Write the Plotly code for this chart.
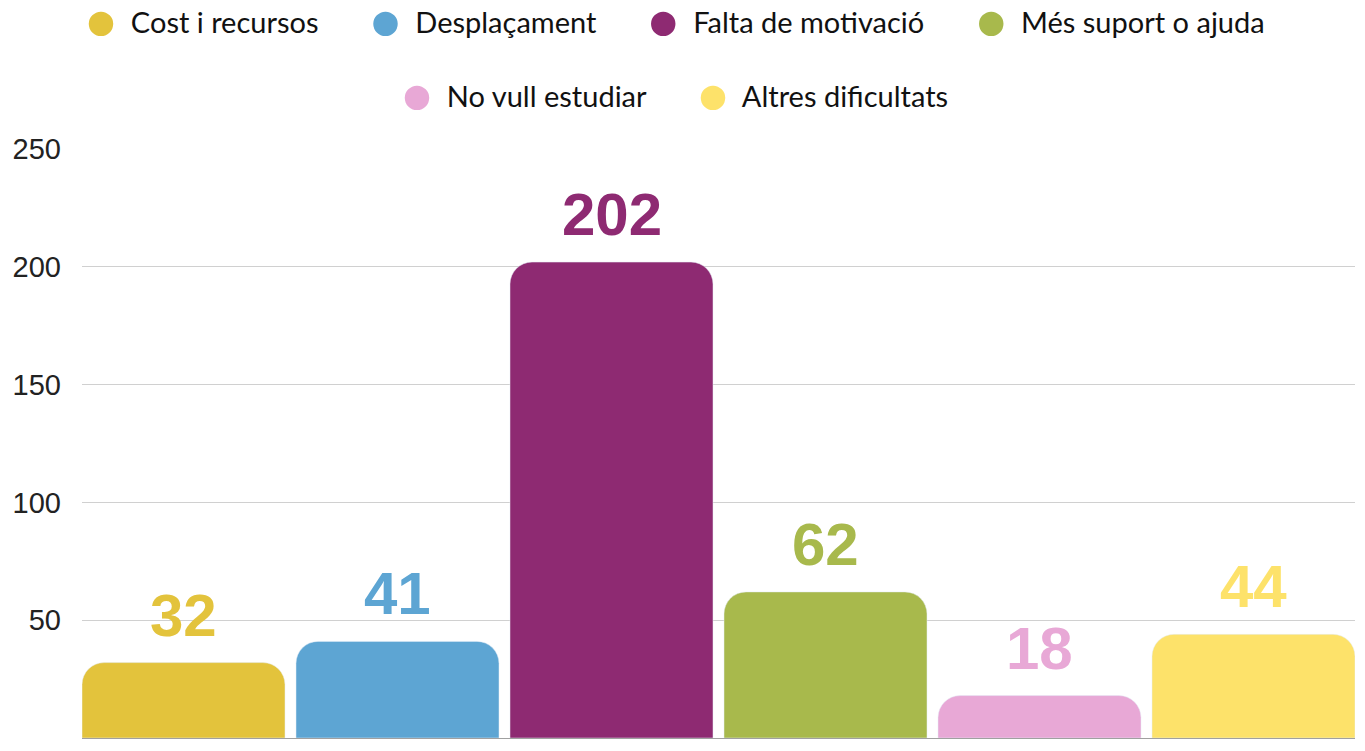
import plotly.graph_objects as go

categories = ["Cost i recursos", "Desplaçament", "Falta de motivació",
              "Més suport o ajuda", "No vull estudiar", "Altres dificultats"]
values = [32, 41, 202, 62, 18, 44]
colors = ["#E3C33C", "#5DA5D3", "#8E2A72", "#A8B94C", "#E8A8D6", "#FDE26A"]
y_ticks = [0, 50, 100, 150, 200, 250]
legend_rows = [[0, 1, 2, 3], [4, 5]]

GAP = 0.0514  # fraction of slot between bars

fig = go.Figure()

fig.add_trace(go.Bar(
    x=categories, y=values,
    marker=dict(color=colors, cornerradius=22),
    showlegend=False, hoverinfo="x+y",
))

for cat, val, col in zip(categories, values, colors):
    fig.add_annotation(
        x=cat, y=val, text=str(val), showarrow=False,
        yanchor="bottom", yshift=12,
        font=dict(family="Liberation Sans, Arial, sans-serif",
                  size=60, color=col, weight="bold"),
    )

# custom centred legend rows with large circle markers
NB = "\u00a0"
row_y = [1 + 129 / 589, 1 + 55 / 589]
for row, yy in zip(legend_rows, row_y):
    parts = []
    for idx in row:
        parts.append(
            f'<span style="color:{colors[idx]};font-size:50px;baseline-shift:-6px">●</span>'
            f'{NB * 2}{categories[idx]}'
        )
    fig.add_annotation(
        xref="paper", yref="paper", x=(675 - 82) / 1273, y=yy,
        xanchor="center", yanchor="middle", showarrow=False,
        text=(NB * 7).join(parts),
        font=dict(family="Lato, Noto Sans, sans-serif", size=29, color="#111"),
    )

fig.update_layout(
    width=1365, height=751,
    margin=dict(l=82, r=10, t=149, b=13, autoexpand=False),
    paper_bgcolor="white", plot_bgcolor="white",
    bargap=GAP, showlegend=False,
    xaxis=dict(showticklabels=False, showgrid=False, zeroline=False,
               showline=False, ticks="", categoryorder="array",
               categoryarray=categories,
               range=[-0.5 + GAP / 2, len(categories) - 0.5 - GAP / 2]),
    yaxis=dict(range=[0, 250], tickvals=y_ticks, showgrid=True,
               gridcolor="#D0D0D0", gridwidth=1, zeroline=True,
               zerolinecolor="#A0A0A0", zerolinewidth=1,
               tickfont=dict(family="Liberation Sans, Arial, sans-serif",
                             size=29, color="#222"),
               ticklabelstandoff=20, ticks="", automargin=False),
)

fig.write_html("out.html", config={"displayModeBar": False},
               post_script="document.body.style.margin='0';")
